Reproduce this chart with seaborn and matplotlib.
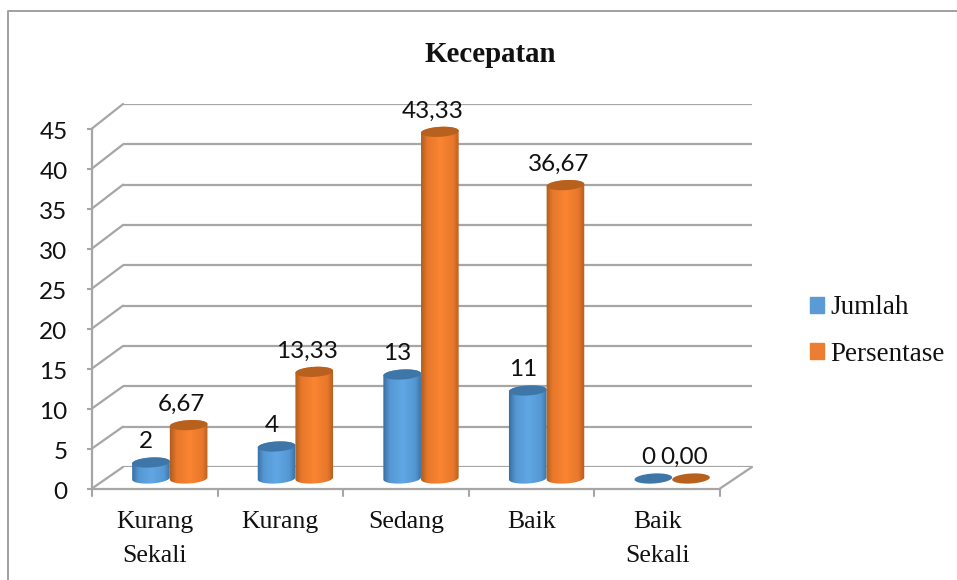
import numpy as np
import pandas as pd
import seaborn as sns
import matplotlib
matplotlib.use("Agg")
import matplotlib.pyplot as plt
from matplotlib.colors import LinearSegmentedColormap
from matplotlib.lines import Line2D
from matplotlib.patches import ConnectionPatch, Polygon, Rectangle
from matplotlib.transforms import ScaledTranslation

kategori = ['Kurang\nSekali', 'Kurang', 'Sedang', 'Baik', 'Baik\nSekali']
jumlah = [2, 4, 13, 11, 0]
persentase = [6.67, 13.33, 43.33, 36.67, 0.00]
label_jumlah = ['2', '4', '13', '11', '0']
label_persen = ['6,67', '13,33', '43,33', '36,67', '0,00']
y_ticks = [0, 5, 10, 15, 20, 25, 30, 35, 40, 45]

W, H = 957, 580
WARNA = {'Jumlah': '#5b9bd5', 'Persentase': '#ed7d31'}
GRADASI = {'Jumlah': ['#33699b', '#5597d2', '#60a7e5', '#5597d2', '#33699b'],
           'Persentase': ['#a9591c', '#e8782b', '#fa8531', '#e8782b', '#a9591c']}
ATAS = {'Jumlah': '#3f76a8', 'Persentase': '#b8611f'}
GARIS = '#a6a6a6'
SERIF = 'Liberation Serif'
SANS = 'Lato'


def kotak(x0, y_bawah, x1, y_atas):
    # posisi dalam piksel gambar, y dihitung dari atas
    return [x0 / W, (H - y_bawah) / H, (x1 - x0) / W, (y_bawah - y_atas) / H]


df = pd.DataFrame({'kategori': kategori * 2,
                   'nilai': jumlah + persentase,
                   'seri': ['Jumlah'] * 5 + ['Persentase'] * 5})

sns.set_theme(style='white')
fig = plt.figure(figsize=(W / 100, H / 100), dpi=100)
fig.patch.set_facecolor('white')

# dinding belakang
ax_wall = fig.add_axes(kotak(123, 467, 752, 104), zorder=0)
ax_wall.set_xlim(0, 1)
ax_wall.set_ylim(0, 45)
ax_wall.set_xticks([])
ax_wall.set_yticks(y_ticks)
ax_wall.tick_params(left=False, labelleft=False)
ax_wall.grid(axis='y', color=GARIS, lw=1.6)
sns.despine(ax=ax_wall, top=True, right=True, bottom=True, left=True)

# sumbu depan
ax = fig.add_axes(kotak(92, 488.5, 720, 128.5), zorder=1)
ax.patch.set_alpha(0)
ax.set_xlim(-0.5, 4.5)
ax.set_ylim(0, 45)
ax.set_xticks(np.arange(5))
ax.set_xticklabels(kategori, family=SERIF, fontsize=18.5, color='#111111', linespacing=1.7)
ax.set_yticks(y_ticks)
ax.tick_params(axis='y', length=3.6, width=1.5, color=GARIS, labelsize=17.5, pad=14, left=True)
ax.tick_params(axis='x', length=0, pad=16.5)
turun = ScaledTranslation(0, -2 / 100, fig.dpi_scale_trans)
for t in ax.get_yticklabels():
    t.set_family(SANS)
    t.set_color('#111111')
    t.set_transform(t.get_transform() + turun)
for p in np.arange(-0.5, 5):
    ax.plot([p, p], [0, -0.9], color=GARIS, lw=1.5, clip_on=False, zorder=1)
sns.despine(ax=ax, top=True, right=True)
for s in ['left', 'bottom']:
    ax.spines[s].set_color(GARIS)
    ax.spines[s].set_linewidth(1.6)
ax.set_xlabel('')

# garis penghubung depan ke dinding
for v in y_ticks:
    ax_wall.add_artist(ConnectionPatch(xyA=(-0.5, v), coordsA=ax.transData,
                                       xyB=(0, v), coordsB=ax_wall.get_yaxis_transform(),
                                       color=GARIS, lw=1.6, clip_on=False))
ax_wall.add_artist(ConnectionPatch(xyA=(4.5, 0), coordsA=ax.transData,
                                   xyB=(1, 0), coordsB=ax_wall.get_yaxis_transform(),
                                   color=GARIS, lw=1.6, clip_on=False))

# batang, digeser ke lantai grafik
ax_bar = fig.add_axes(kotak(107, 478.5, 735, 118.5), zorder=2)
ax_bar.patch.set_alpha(0)
sns.barplot(data=df, x='kategori', y='nilai', hue='seri', palette=WARNA,
            width=0.6, saturation=1, ax=ax_bar, legend=False, errorbar=None)
ax_bar.set_xlim(-0.5, 4.5)
ax_bar.set_ylim(0, 45)
ax_bar.axis('off')

PX_X = 5 / (735 - 107)
PX_Y = 45 / 360
t = np.linspace(0, 2 * np.pi, 80)
miring = np.deg2rad(3.5)
B = 5.0


def elips(cx, cy, a, b, t_):
    # elips sedikit miring, dihitung di piksel lalu ke data
    px = a * np.cos(t_) * np.cos(miring) - b * np.sin(t_) * np.sin(miring)
    py = a * np.cos(t_) * np.sin(miring) + b * np.sin(t_) * np.cos(miring)
    return np.column_stack([cx + px * PX_X, cy + py * PX_Y])


seri_urut = ['Jumlah', 'Persentase']
teks = [label_jumlah, label_persen]
geser = [-3.5, -5.2]
for cont, seri, lbl, dx in zip(ax_bar.containers, seri_urut, teks, geser):
    cmap = LinearSegmentedColormap.from_list(seri, list(zip([0, 0.18, 0.5, 0.82, 1], GRADASI[seri])))
    for bar, s in zip(cont, lbl):
        cx = bar.get_x() + bar.get_width() / 2
        a = bar.get_width() / 2 / PX_X
        h = bar.get_height()
        bar.set_visible(False)
        if h > 0:
            bawah = elips(cx, 0, a, B, np.linspace(np.pi, 2 * np.pi, 40))
            atas = elips(cx, h, a, B, np.linspace(0, np.pi, 40))
            sisi = Polygon(np.vstack([bawah, atas]), closed=True, transform=ax_bar.transData,
                           fc='none', ec='none', clip_on=False)
            ax_bar.add_patch(sisi)
            img = ax_bar.imshow(np.linspace(0, 1, 64).reshape(1, -1), cmap=cmap, aspect='auto',
                                extent=[cx - bar.get_width() / 2 - 0.01, cx + bar.get_width() / 2 + 0.01, -2, h + 1],
                                zorder=3 + bar.get_x())
            img.set_clip_box(fig.bbox)
            img.set_clip_path(sisi)
        ax_bar.add_patch(Polygon(elips(cx, h, a, B, t), closed=True, fc=ATAS[seri], ec='none',
                                 zorder=3.01 + bar.get_x(), clip_on=False))
        ax_bar.annotate(s, (cx, h), xytext=(dx, 7.5), textcoords='offset points', ha='center',
                        va='bottom', family=SANS, fontsize=17.5, color='#111111', zorder=20,
                        annotation_clip=False)
ax_bar.set_xlim(-0.5, 4.5)
ax_bar.set_ylim(0, 45)

# judul, legenda, bingkai
fig.text(490 / W, 1 - 54.5 / H, 'Kecepatan', family=SERIF, weight='bold', fontsize=20.8,
         color='#111111', ha='center', va='center')
handles = [Rectangle((0, 0), 1, 1, color=WARNA[s]) for s in seri_urut]
leg = fig.legend(handles, seri_urut, loc='center left', bbox_to_anchor=(810 / W, 1 - 331 / H),
                 frameon=False, handlelength=0.52, handleheight=0.52, handletextpad=0.22,
                 labelspacing=0.78, borderpad=0, borderaxespad=0,
                 prop={'family': SERIF, 'size': 19.5})
for txt in leg.get_texts():
    txt.set_color('#111111')
fig.add_artist(Line2D([8 / W, 8 / W, 1], [0, 1 - 11 / H, 1 - 11 / H],
                      transform=fig.transFigure, color='#a0a0a0', lw=1.4))

fig.savefig('out.png', dpi=100)
